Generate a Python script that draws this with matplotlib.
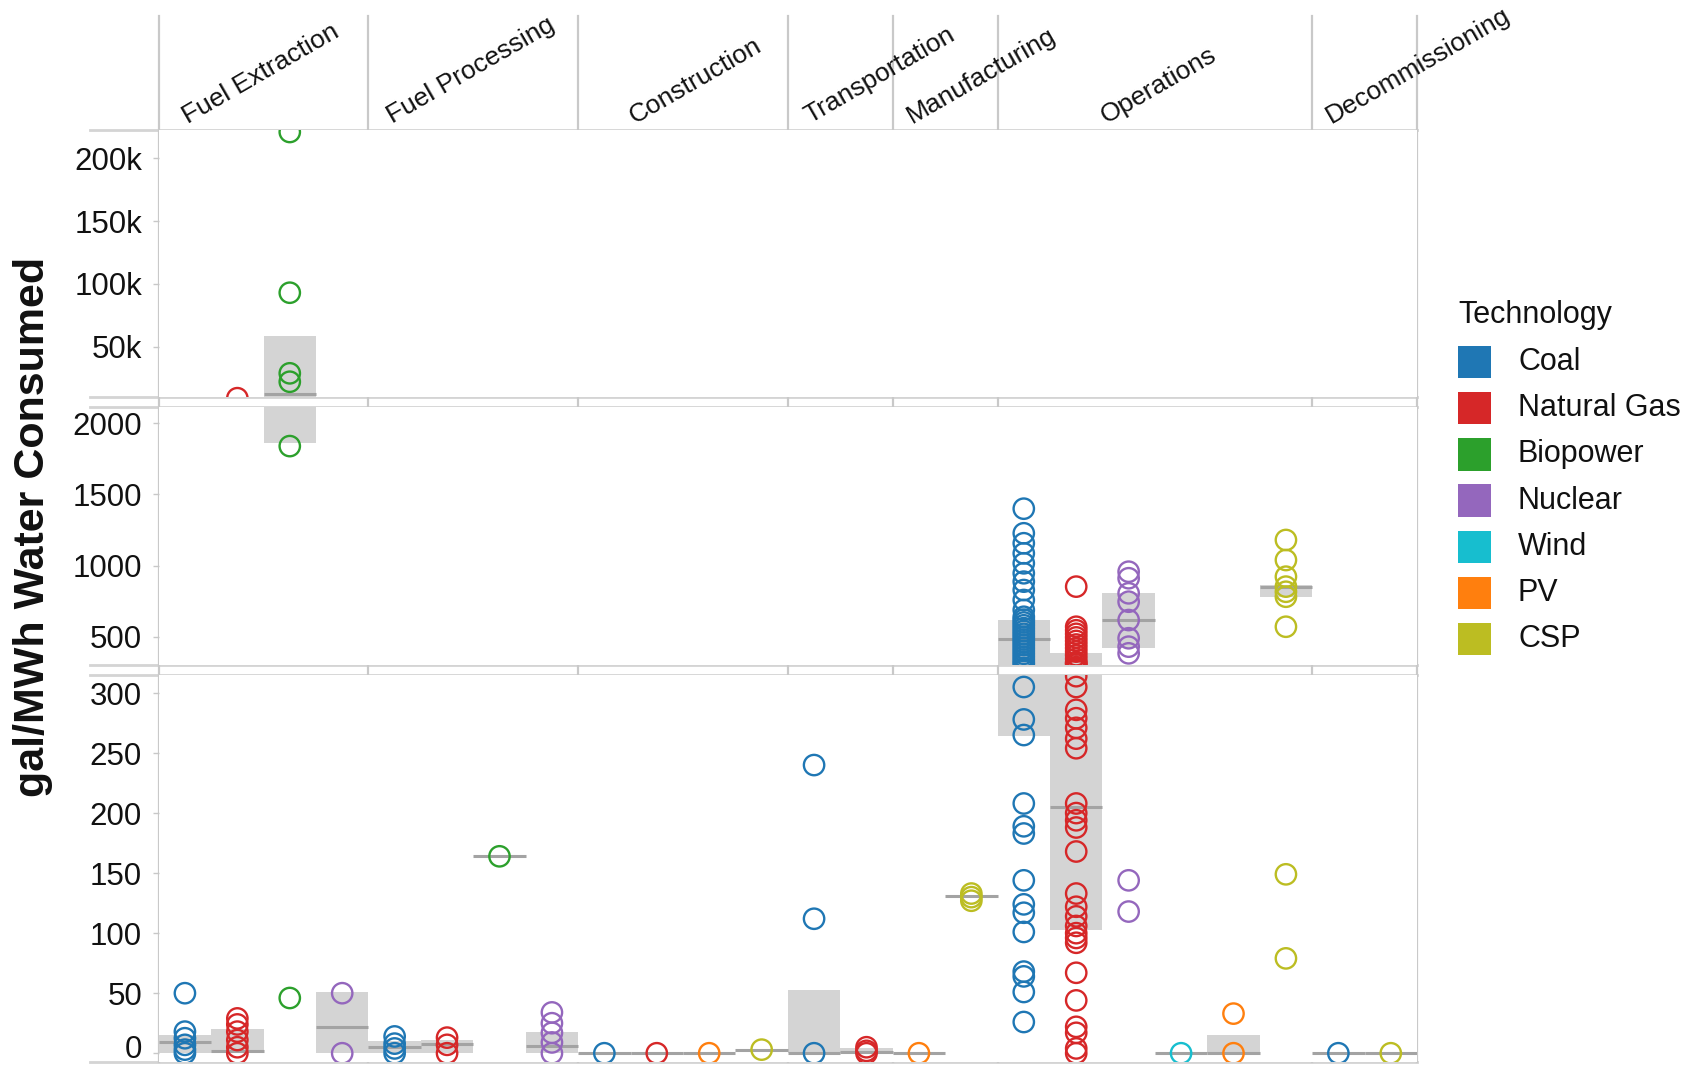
import matplotlib
matplotlib.use("Agg")
import matplotlib.pyplot as plt
from matplotlib.patches import Rectangle
from matplotlib.lines import Line2D
from matplotlib.ticker import FixedLocator, FuncFormatter

plt.rcParams['font.family'] = ['Liberation Sans', 'DejaVu Sans']

# ---------------------------------------------------------------- data
stages = ["Fuel Extraction", "Fuel Processing", "Construction", "Transportation",
          "Manufacturing", "Operations", "Decommissioning"]
technologies = ["Coal", "Natural Gas", "Biopower", "Nuclear", "Wind", "PV", "CSP"]
tech_colors = ["#1f77b4", "#d62728", "#2ca02c", "#9467bd", "#17becf", "#ff7f0e", "#bcbd22"]

# technologies reported in each life-cycle stage (one slot each)
fuel_extraction_techs = ["Coal", "Natural Gas", "Biopower", "Nuclear"]
fuel_processing_techs = ["Coal", "Natural Gas", "Biopower", "Nuclear"]
construction_techs = ["Coal", "Natural Gas", "PV", "CSP"]
transportation_techs = ["Coal", "Natural Gas"]
manufacturing_techs = ["PV", "CSP"]
operations_techs = ["Coal", "Natural Gas", "Nuclear", "Wind", "PV", "CSP"]
decommissioning_techs = ["Coal", "CSP"]

# water consumed, gal/MWh, one list per slot
fuel_extraction_values = [
    [50, 18, 12.5, 7, 3, 0],
    [9000, 29, 24, 18, 11, 5, 0],
    [221000, 93000, 28800, 22100, 1840, 46],
    [50, 0],
]
fuel_processing_values = [
    [14, 8, 4, 0],
    [13, 7, 0],
    [164],
    [34, 25, 17, 9, 0],
]
construction_values = [[0], [0], [0], [3]]
transportation_values = [[240, 112, 0], [5, 2, 0]]
manufacturing_values = [[0], [133, 130, 127]]
operations_values = [
    [1400, 1227, 1157, 1086, 1016, 946, 887, 828, 758, 688, 640, 620, 600, 580,
     560, 540, 520, 500, 480, 460, 440, 420, 400, 380, 360, 340, 320, 305, 278,
     265, 208, 189, 183, 144, 124, 117, 101, 68, 64, 51, 26],
    [852, 570, 545, 520, 495, 470, 445, 420, 395, 370, 345, 320, 314, 305, 286,
     279, 271, 262, 254, 208, 200, 194, 188, 168, 133, 122, 114, 106, 100, 96,
     92, 67, 44, 22, 17, 4, 0],
    [957, 911, 805, 746, 617, 489, 430, 383, 144, 118],
    [0],
    [33, 0],
    [1180, 1039, 922, 852, 816, 781, 570, 149, 79],
]
decommissioning_values = [[0], [0]]

# box summaries per slot: (lower quartile, median, upper quartile)
fuel_extraction_box = [(0, 9, 15), (0, 2, 20), (1860, 12300, 58800), (0, 22, 51)]
fuel_processing_box = [(0, 5.5, 10), (0, 8, 11), (164, 164, 164), (0, 6, 18)]
construction_box = [(0, 0, 0), (0, 0, 0), (0, 0, 0), (3, 3, 3)]
transportation_box = [(0, 0, 53), (0, 1, 4)]
manufacturing_box = [(0, 0, 0), (131, 131, 131)]
operations_box = [(264, 482, 617), (103, 205, 383), (418, 617, 805),
                  (0, 0, 0), (0, 0, 15), (781, 852, 864)]
decommissioning_box = [(0, 0, 0), (0, 0, 0)]

stage_techs = [fuel_extraction_techs, fuel_processing_techs, construction_techs,
               transportation_techs, manufacturing_techs, operations_techs,
               decommissioning_techs]
stage_values = [fuel_extraction_values, fuel_processing_values, construction_values,
                transportation_values, manufacturing_values, operations_values,
                decommissioning_values]
stage_boxes = [fuel_extraction_box, fuel_processing_box, construction_box,
               transportation_box, manufacturing_box, operations_box,
               decommissioning_box]

# ---------------------------------------------------------------- layout
W, H = 1704, 1067
fig = plt.figure(figsize=(W / 100, H / 100), dpi=100)
fig.patch.set_facecolor("white")

x_left, x_right = 158.7, 1417.0
n_slots = sum(len(t) for t in stage_techs)


def fx(px):
    return px / W


def fy(py):
    return 1 - py / H


ax_l = fx(x_left)
ax_w = fx(x_right) - fx(x_left)

# (top px, bottom px, y-limits, ticks) for the three broken-axis panels
panels = [
    (130.0, 397.3, (9700, 222600), [50000, 100000, 150000, 200000]),
    (406.7, 665.0, (301, 2117), [500, 1000, 1500, 2000]),
    (675.0, 1062.0, (-7.3, 315), [0, 50, 100, 150, 200, 250, 300]),
]

box_face = "#d4d4d4"
median_col = "#a3a3a3"
frame_col = "#d4d4d4"
sep_col = "#c9c9c9"
tick_size = 22.5
tick_len, tick_pad = 4, 8
edge_tol_px = 6  # markers whose centre lies just past a panel edge still peek in


def fmt_k(v, p):
    return f"{int(v / 1000)}k"


def fmt_plain(v, p):
    # the zero label is drawn separately, nudged up to stay inside the figure
    return "" if v == 0 else f"{int(v)}"


axes = []
for top, bot, ylim, ticks in panels:
    ax = fig.add_axes([ax_l, fy(bot), ax_w, (bot - top) / H])
    ax.set_xlim(0, n_slots)
    ax.set_ylim(*ylim)
    for sp in ax.spines.values():
        sp.set_visible(False)
    ax.set_xticks([])
    ax.yaxis.set_major_locator(FixedLocator(ticks))
    ax.yaxis.set_major_formatter(FuncFormatter(fmt_k if ylim[1] > 10000 else fmt_plain))
    ax.tick_params(axis="y", labelsize=tick_size, length=tick_len, width=1,
                   color="#c8c8c8", pad=tick_pad, labelcolor="#111111")
    if 0 in ticks:
        ax.annotate("0", xy=(0, 0), xycoords=("axes fraction", "data"),
                    xytext=(-(tick_len + tick_pad), 2.5), textcoords="offset points",
                    ha="right", va="center", fontsize=tick_size, color="#111111",
                    annotation_clip=False)
    axes.append(ax)

    tol = edge_tol_px * (ylim[1] - ylim[0]) / (bot - top)
    slot = 0
    for techs, vals, boxes in zip(stage_techs, stage_values, stage_boxes):
        for tech, v, (q1, med, q3) in zip(techs, vals, boxes):
            color = tech_colors[technologies.index(tech)]
            if q3 > q1:
                ax.add_patch(Rectangle((slot, q1), 1, q3 - q1, facecolor=box_face,
                                       edgecolor="none", zorder=1))
            ax.hlines(med, slot, slot + 1, color=median_col, lw=2.2, zorder=2)
            shown = [y for y in v if ylim[0] - tol <= y <= ylim[1] + tol]
            if shown:
                ax.scatter([slot + 0.5] * len(shown), shown, s=215,
                           facecolors="none", edgecolors=color, linewidths=1.7,
                           zorder=3)
            slot += 1

    # horizontal frame lines of the panel, running under the tick labels
    for py in (top, bot):
        fig.add_artist(Line2D([fx(90), fx(x_right)], [fy(py), fy(py)],
                              color=frame_col, lw=2, transform=fig.transFigure,
                              zorder=0))

# column separators through header and all panels
bounds = [0]
for t in stage_techs:
    bounds.append(bounds[-1] + len(t))
for b in bounds:
    xb = ax_l + ax_w * b / n_slots
    fig.add_artist(Line2D([xb, xb], [fy(16), fy(1062)], color=sep_col, lw=1.6,
                          transform=fig.transFigure, zorder=0))

# stage headers, rotated
header_start = [0.56, 4.46, 9.08, 12.42, 14.37, 18.08, 22.37]
hax = fig.add_axes([ax_l, fy(130), ax_w, (130 - 16) / H])
hax.set_xlim(0, n_slots)
hax.set_ylim(0, 1)
hax.axis("off")
for name, xs in zip(stages, header_start):
    hax.text(xs, (130 - 124) / 114, name, rotation=30, rotation_mode="anchor",
             ha="left", va="baseline", fontsize=19, color="#111111")

# axis title
fig.text(fx(33), fy(527), "gal/MWh Water Consumed", rotation=90, ha="center",
         va="center", fontsize=31, fontweight="bold", color="#111111")

# legend
fig.text(fx(1458), fy(315), "Technology", ha="left", va="center", fontsize=22,
         color="#111111")
sq = 32.5
for i, (tech, col) in enumerate(zip(technologies, tech_colors)):
    cy = 362 + i * 46.2
    fig.add_artist(Rectangle((fx(1458), fy(cy + sq / 2)), sq / W, sq / H,
                             facecolor=col, edgecolor="none",
                             transform=fig.transFigure))
    fig.text(fx(1518), fy(cy), tech, ha="left", va="center", fontsize=22,
             color="#111111")

fig.savefig("out.png", dpi=100, facecolor="white")
